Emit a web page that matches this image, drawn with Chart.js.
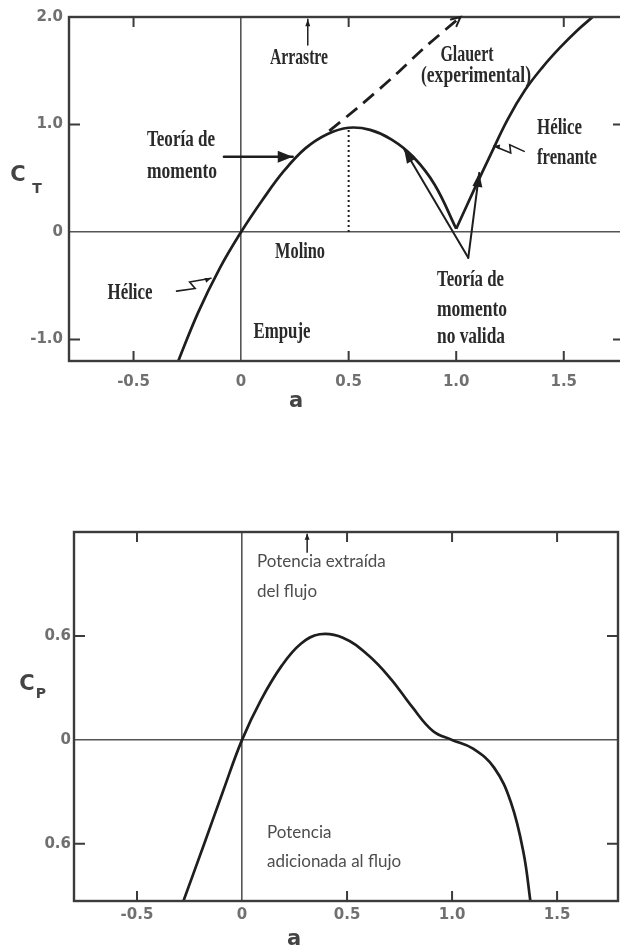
<!DOCTYPE html>
<html>
<head>
<meta charset="utf-8">
<script src="https://cdn.jsdelivr.net/npm/chart.js@4.4.1/dist/chart.umd.min.js"></script>
<style>
  html, body { margin: 0; padding: 0; background: #fff; overflow: hidden; width: 620px; height: 951px; }
  .box { position: absolute; left: 0; width: 625px; }
  #boxCT { top: 0; height: 420px; }
  #boxCP { top: 470px; height: 481px; }
</style>
</head>
<body>
<div class="box" id="boxCT"><canvas id="ctChart"></canvas></div>
<div class="box" id="boxCP"><canvas id="cpChart"></canvas></div>
<script>
// ticks
const aTicks = [-0.5, 0, 0.5, 1.0, 1.5];
const ctTicks = [-1.0, 0, 1.0, 2.0];
const cpTicks = [-0.6, 0, 0.6];

// C_T: teoria de momento
const momA = [-0.3, -0.2, -0.1, 0, 0.1, 0.2, 0.3, 0.4, 0.5, 0.6, 0.7, 0.8, 0.9, 1.0];
const momCT = [-1.24, -0.75, -0.34, 0, 0.30, 0.57, 0.78, 0.91, 0.97, 0.95, 0.86, 0.70, 0.44, 0.03];
// Glauert (experimental), dashed
const glauA = [0.41, 0.55, 0.7, 0.85, 1.02];
const glauCT = [0.94, 1.17, 1.43, 1.71, 2.0];
// helice frenante branch
const frenA = [1.0, 1.08, 1.16, 1.24, 1.32, 1.40, 1.48, 1.56, 1.64, 1.72];
const frenCT = [0.03, 0.38, 0.72, 1.05, 1.32, 1.53, 1.71, 1.87, 2.01, 2.15];
// dotted max line at a = 0.5
const maxA = [0.5, 0.5];
const maxCT = [0, 0.97];

// C_P curve
const cpA = [-0.285, -0.18, -0.09, 0, 0.09, 0.19, 0.28, 0.37, 0.48, 0.6, 0.71, 0.81, 0.91, 1.0, 1.1, 1.2, 1.28, 1.34, 1.375];
const cpVals = [-0.95, -0.60, -0.295, 0, 0.23, 0.43, 0.555, 0.61, 0.59, 0.49, 0.35, 0.19, 0.05, 0.0, -0.05, -0.16, -0.36, -0.65, -0.95];

const inkCol = "#1e1e1e";
const frameCol = "#3b3b3b";
const zeroCol = "#555";
const tickCol = "#707070";
const tickFont = { family: "DejaVu Sans", size: 15, weight: "bold" };

const pts = (xs, ys) => xs.map((x, i) => ({ x: x, y: ys[i] }));

function makeScales(cfg) {
    return {
        x: {
            type: "linear",
            min: cfg.xMin,
            max: cfg.xMax,
            afterBuildTicks: (s) => { s.ticks = aTicks.map((v) => ({ value: v })); },
            afterFit: (s) => { s.height = cfg.xH; },
            grid: {
                drawTicks: false,
                lineWidth: 1.6,
                color: (c) => (c.tick && c.tick.value === 0 ? zeroCol : "rgba(0,0,0,0)"),
            },
            border: { display: false },
            ticks: {
                padding: cfg.xPad, color: tickCol, font: tickFont, maxRotation: 0, autoSkip: false,
                callback: (v) => (v === 0 ? "0" : v.toFixed(1)),
            },
        },
        y: {
            type: "linear",
            min: cfg.yMin,
            max: cfg.yMax,
            afterBuildTicks: (s) => { s.ticks = cfg.yTicks.map((v) => ({ value: v })); },
            afterFit: (s) => { s.width = cfg.yW; },
            grid: {
                drawTicks: false,
                lineWidth: 1.6,
                color: (c) => (c.tick && c.tick.value === 0 ? zeroCol : "rgba(0,0,0,0)"),
            },
            border: { display: false },
            ticks: {
                padding: cfg.yPad, color: tickCol, font: tickFont, autoSkip: false,
                callback: cfg.yLabel,
            },
        },
    };
}

function frame(chart, xTop, yVals) {
    const { ctx, chartArea: ca, scales: { x, y } } = chart;
    ctx.save();
    ctx.strokeStyle = frameCol;
    ctx.lineWidth = 2.4;
    ctx.strokeRect(ca.left, ca.top, ca.right - ca.left, ca.bottom - ca.top);
    ctx.lineWidth = 2;
    ctx.beginPath();
    aTicks.filter((v) => v !== 0).forEach((v) => {
        const px = x.getPixelForValue(v);
        ctx.moveTo(px, ca.bottom);
        ctx.lineTo(px, ca.bottom - 10);
        if (xTop.includes(v)) {
            ctx.moveTo(px, ca.top);
            ctx.lineTo(px, ca.top + 10);
        }
    });
    yVals.forEach((v) => {
        const py = y.getPixelForValue(v);
        ctx.moveTo(ca.left, py);
        ctx.lineTo(ca.left + 11, py);
        ctx.moveTo(ca.right, py);
        ctx.lineTo(ca.right - 11, py);
    });
    ctx.stroke();
    ctx.restore();
}

function head(ctx, p1, p2, len, half) {
    const ang = Math.atan2(p2[1] - p1[1], p2[0] - p1[0]);
    const c = Math.cos(ang), s = Math.sin(ang);
    ctx.beginPath();
    ctx.moveTo(p2[0], p2[1]);
    ctx.lineTo(p2[0] - len * c + half * s, p2[1] - len * s - half * c);
    ctx.lineTo(p2[0] - len * c - half * s, p2[1] - len * s + half * c);
    ctx.closePath();
    ctx.fill();
}

function arrow(ctx, p1, p2, w, len, half) {
    ctx.lineWidth = w;
    ctx.beginPath();
    ctx.moveTo(p1[0], p1[1]);
    ctx.lineTo(p2[0], p2[1]);
    ctx.stroke();
    head(ctx, p1, p2, len, half);
}

function squiggle(ctx, p0, p1) {
    const dx = p1[0] - p0[0], dy = p1[1] - p0[1];
    const L = Math.hypot(dx, dy);
    const nx = -dy / L, ny = dx / L;
    ctx.lineWidth = 1.6;
    ctx.beginPath();
    ctx.moveTo(p0[0], p0[1]);
    ctx.lineTo(p0[0] + 0.5 * dx + 4 * nx, p0[1] + 0.5 * dy + 4 * ny);
    ctx.lineTo(p0[0] + 0.42 * dx - 4 * nx, p0[1] + 0.42 * dy - 4 * ny);
    ctx.lineTo(p1[0], p1[1]);
    ctx.stroke();
    head(ctx, [p0[0] + 0.42 * dx, p0[1] + 0.42 * dy], p1, 6, 2.5);
}

function fitText(ctx, str, x, y, w, align) {
    const m = ctx.measureText(str).width;
    const sx = w / m;
    ctx.save();
    ctx.translate(x, y);
    ctx.scale(sx, 1);
    ctx.textAlign = align;
    ctx.fillText(str, 0, 0);
    ctx.restore();
}

function axisLabel(ctx, main, sub, mx, my, sx, sy) {
    ctx.save();
    ctx.fillStyle = "#444";
    ctx.textAlign = "center";
    ctx.textBaseline = "middle";
    ctx.font = 'bold 21px "DejaVu Sans"';
    ctx.fillText(main, mx, my);
    if (sub) {
        ctx.font = 'bold 14px "DejaVu Sans"';
        ctx.fillText(sub, sx, sy);
    }
    ctx.restore();
}

const ctNotes = [
    ["Arrastre", 299, 58, 58, "center"],
    ["Glauert", 467, 55, 53, "center"],
    ["(experimental)", 476, 76, 110, "center"],
    ["Teoría de", 181, 140, 68, "center"],
    ["momento", 182, 172, 70, "center"],
    ["Hélice", 537, 128, 45, "left"],
    ["frenante", 537, 158, 60, "left"],
    ["Molino", 300, 252, 50, "center"],
    ["Hélice", 130, 293, 45, "center"],
    ["Empuje", 282, 332, 57, "center"],
    ["Teoría de", 437, 280, 67, "left"],
    ["momento", 437, 310, 70, "left"],
    ["no valida", 437, 337, 68, "left"],
];

const ctDecor = {
    id: "ctDecor",
    afterDatasetsDraw(chart) {
        const { ctx, scales: { x, y } } = chart;
        const P = (a, c) => [x.getPixelForValue(a), y.getPixelForValue(c)];
        frame(chart, [-0.5, 0.5, 1.5], [-1.0, 1.0]);
        ctx.save();
        ctx.strokeStyle = inkCol;
        ctx.fillStyle = inkCol;
        ctx.lineCap = "round";
        // Arrastre
        arrow(ctx, P(0.31, 1.74), P(0.31, 1.98), 1.5, 7, 2.5);
        // Teoria de momento
        arrow(ctx, P(-0.08, 0.70), P(0.24, 0.70), 2.4, 15, 6);
        // Teoria de momento no valida
        const o = P(1.056, -0.24);
        arrow(ctx, o, P(0.758, 0.77), 2, 14, 5);
        arrow(ctx, o, P(1.107, 0.55), 2, 14, 5);
        // Glauert arrow head (open)
        const n = glauA.length;
        const g1 = P(glauA[n - 2], glauCT[n - 2]);
        const g2 = P(glauA[n - 1], glauCT[n - 1]);
        const ang = Math.atan2(g2[1] - g1[1], g2[0] - g1[0]);
        ctx.lineWidth = 2;
        ctx.beginPath();
        ctx.moveTo(g2[0] - 10 * Math.cos(ang - 0.45), g2[1] - 10 * Math.sin(ang - 0.45));
        ctx.lineTo(g2[0], g2[1]);
        ctx.lineTo(g2[0] - 10 * Math.cos(ang + 0.45), g2[1] - 10 * Math.sin(ang + 0.45));
        ctx.stroke();
        // squiggle pointers
        squiggle(ctx, P(-0.30, -0.55), P(-0.14, -0.43));
        squiggle(ctx, P(1.316, 0.75), P(1.175, 0.80));

        ctx.fillStyle = "#2a2a2a";
        ctx.textBaseline = "middle";
        ctx.font = 'bold 24px "Liberation Serif"';
        ctNotes.forEach((t) => fitText(ctx, t[0], t[1], t[2], t[3], t[4]));
        ctx.restore();

        axisLabel(ctx, "C", "T", 18, 176, 37, 189);
        axisLabel(ctx, "a", null, 296, 402);
    },
};

const cpDecor = {
    id: "cpDecor",
    afterDatasetsDraw(chart) {
        const { ctx, scales: { x, y } } = chart;
        const P = (a, c) => [x.getPixelForValue(a), y.getPixelForValue(c)];
        frame(chart, [-0.5, 0.5, 1.0, 1.5], [-0.6, 0.6]);
        ctx.save();
        ctx.strokeStyle = inkCol;
        ctx.fillStyle = inkCol;
        arrow(ctx, P(0.31, 1.08), P(0.31, 1.19), 1.5, 6, 2.5);
        ctx.fillStyle = "#4d4d4d";
        ctx.textBaseline = "middle";
        ctx.textAlign = "left";
        ctx.font = '17px "Lato"';
        ctx.fillText("Potencia extraída", 257, 92);
        ctx.fillText("del flujo", 257, 122);
        ctx.fillText("Potencia", 267, 363);
        ctx.fillText("adicionada al flujo", 267, 392);
        ctx.restore();

        axisLabel(ctx, "C", "P", 27, 215, 41, 224);
        axisLabel(ctx, "a", null, 294, 470);
    },
};

const common = {
    responsive: true,
    maintainAspectRatio: false,
    animation: false,
    devicePixelRatio: 1,
    plugins: { legend: { display: false }, tooltip: { enabled: false } },
    elements: { point: { radius: 0 } },
};

new Chart(document.getElementById("ctChart"), {
    type: "scatter",
    data: {
        datasets: [
            { data: pts(momA, momCT), showLine: true, borderColor: inkCol, borderWidth: 2.7, tension: 0.4 },
            { data: pts(frenA, frenCT), showLine: true, borderColor: inkCol, borderWidth: 2.7, tension: 0.4 },
            { data: pts(glauA, glauCT), showLine: true, borderColor: inkCol, borderWidth: 2.8, borderDash: [14, 8], tension: 0.3 },
            { data: pts(maxA, maxCT), showLine: true, borderColor: inkCol, borderWidth: 2, borderDash: [2, 3] },
        ],
    },
    options: Object.assign({}, common, {
        layout: { padding: { left: 0, top: 17, right: 1, bottom: 0 } },
        scales: makeScales({
            xMin: -0.8, xMax: 1.78, xH: 59, xPad: 12,
            yMin: -1.2, yMax: 2.0, yW: 69, yPad: 6, yTicks: ctTicks,
            yLabel: (v) => (v === 0 ? "0" : v.toFixed(1)),
        }),
    }),
    plugins: [ctDecor],
});

new Chart(document.getElementById("cpChart"), {
    type: "scatter",
    data: {
        datasets: [
            { data: pts(cpA, cpVals), showLine: true, borderColor: inkCol, borderWidth: 2.7, tension: 0.4 },
        ],
    },
    options: Object.assign({}, common, {
        layout: { padding: { left: 0, top: 62, right: 7, bottom: 0 } },
        scales: makeScales({
            xMin: -0.8, xMax: 1.79, xH: 50, xPad: 5,
            yMin: -0.93, yMax: 1.2, yW: 74, yPad: 3, yTicks: cpTicks,
            yLabel: (v) => (v === 0 ? "0" : Math.abs(v).toFixed(1)),
        }),
    }),
    plugins: [cpDecor],
});
</script>
</body>
</html>
